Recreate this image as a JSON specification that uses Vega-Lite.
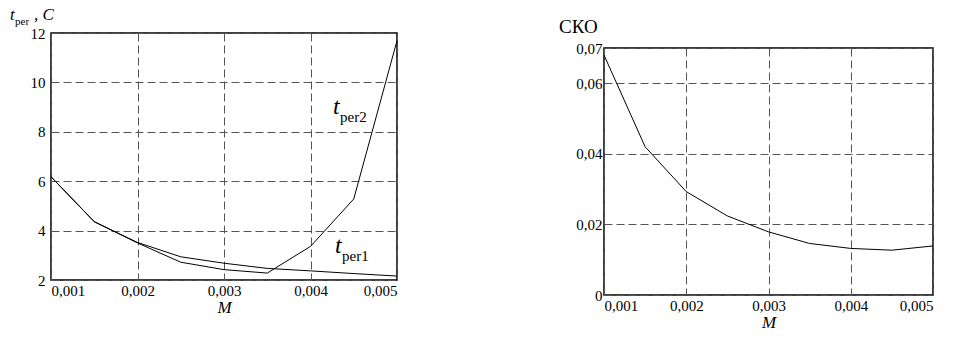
{
  "$schema": "https://vega.github.io/schema/vega-lite/v6.json",
  "padding": {"left": 9, "top": 4, "right": 5, "bottom": 5},
  "datasets": {
    "tper": [
      {"M": 0.001, "v": 6.18, "series": "tper1"},
      {"M": 0.0015, "v": 4.36, "series": "tper1"},
      {"M": 0.002, "v": 3.52, "series": "tper1"},
      {"M": 0.0025, "v": 2.94, "series": "tper1"},
      {"M": 0.003, "v": 2.68, "series": "tper1"},
      {"M": 0.0035, "v": 2.47, "series": "tper1"},
      {"M": 0.004, "v": 2.37, "series": "tper1"},
      {"M": 0.0045, "v": 2.26, "series": "tper1"},
      {"M": 0.005, "v": 2.16, "series": "tper1"},
      {"M": 0.001, "v": 6.18, "series": "tper2"},
      {"M": 0.0015, "v": 4.36, "series": "tper2"},
      {"M": 0.002, "v": 3.5, "series": "tper2"},
      {"M": 0.0025, "v": 2.72, "series": "tper2"},
      {"M": 0.003, "v": 2.42, "series": "tper2"},
      {"M": 0.0035, "v": 2.28, "series": "tper2"},
      {"M": 0.004, "v": 3.36, "series": "tper2"},
      {"M": 0.0045, "v": 5.28, "series": "tper2"},
      {"M": 0.005, "v": 11.69, "series": "tper2"}
    ],
    "sko": [
      {"M": 0.001, "v": 0.068},
      {"M": 0.0015, "v": 0.042},
      {"M": 0.002, "v": 0.0293},
      {"M": 0.0025, "v": 0.0224},
      {"M": 0.003, "v": 0.0179},
      {"M": 0.0035, "v": 0.0146},
      {"M": 0.004, "v": 0.0132},
      {"M": 0.0045, "v": 0.0127},
      {"M": 0.005, "v": 0.0139}
    ],
    "leftMainLabels": [
      {"M": 0.000526, "v": 12.53, "label": "t"},
      {"M": 0.000803, "v": 12.53, "label": ", C"}
    ],
    "leftSubLabels": [
      {"M": 0.000584, "v": 12.32, "label": "per"}
    ],
    "curveMain": [
      {"M": 0.00426, "v": 8.72, "label": "t"},
      {"M": 0.004283, "v": 3.09, "label": "t"}
    ],
    "curveSub": [
      {"M": 0.004341, "v": 8.4, "label": "per2"},
      {"M": 0.004364, "v": 2.77, "label": "per1"}
    ],
    "rightTitle": [
      {"M": 0.000453, "v": 0.0742, "label": "СКО"}
    ],
    "empty": []
  },
  "spacing": 158,
  "hconcat": [
    {
      "spacing": 0,
      "vconcat": [
        {
          "width": 10, "height": 1,
          "view": {"stroke": null},
          "data": {"name": "empty"},
          "mark": "point"
        },
        {
          "width": 346,
          "height": 247,
          "view": {"stroke": "black", "strokeWidth": 1.5},
          "layer": [
            {
              "data": {"name": "tper"},
              "mark": {"type": "line", "color": "black", "strokeWidth": 1},
              "encoding": {
                "x": {
                  "field": "M", "type": "quantitative",
                  "scale": {"domain": [0.001, 0.005], "nice": false, "zero": false},
                  "axis": {
                    "values": [0.001, 0.002, 0.003, 0.004, 0.005],
                    "labelExpr": "replace(format(datum.value, '.3f'), '.', ',')",
                    "domain": false, "ticks": false,
                    "gridColor": "#555", "gridDash": [8, 4], "gridWidth": 1, "gridOpacity": 1,
                    "labelFont": "Liberation Serif", "labelFontSize": 15, "labelColor": "black",
                    "labelPadding": 3, "labelOverlap": false,
                    "title": "M", "titleFont": "Liberation Serif", "titleColor": "black", "titleFontStyle": "italic", "titleFontWeight": "normal", "titleFontSize": 17, "titlePadding": 1
                  }
                },
                "y": {
                  "field": "v", "type": "quantitative",
                  "scale": {"domain": [2, 12], "nice": false, "zero": false},
                  "axis": {
                    "values": [2, 4, 6, 8, 10, 12],
                    "domain": false, "ticks": false,
                    "gridColor": "#555", "gridDash": [8, 4], "gridWidth": 1, "gridOpacity": 1,
                    "labelFont": "Liberation Serif", "labelFontSize": 15, "labelColor": "black", "labelPadding": 6, "title": null
                  }
                },
                "detail": {"field": "series"}
              }
            },
            {
              "data": {"name": "leftMainLabels"},
              "mark": {"type": "text", "font": "Liberation Serif", "align": "left", "baseline": "alphabetic", "fontSize": 17, "fontStyle": "italic", "color": "black"},
              "encoding": {
                "x": {"field": "M", "type": "quantitative"},
                "y": {"field": "v", "type": "quantitative"},
                "text": {"field": "label"}
              }
            },
            {
              "data": {"name": "leftSubLabels"},
              "mark": {"type": "text", "font": "Liberation Serif", "align": "left", "baseline": "alphabetic", "fontSize": 11, "color": "black"},
              "encoding": {
                "x": {"field": "M", "type": "quantitative"},
                "y": {"field": "v", "type": "quantitative"},
                "text": {"field": "label"}
              }
            },
            {
              "data": {"name": "curveMain"},
              "mark": {"type": "text", "font": "Liberation Serif", "align": "left", "baseline": "alphabetic", "fontSize": 24, "fontStyle": "italic", "color": "black"},
              "encoding": {
                "x": {"field": "M", "type": "quantitative"},
                "y": {"field": "v", "type": "quantitative"},
                "text": {"field": "label"}
              }
            },
            {
              "data": {"name": "curveSub"},
              "mark": {"type": "text", "font": "Liberation Serif", "align": "left", "baseline": "alphabetic", "fontSize": 15, "color": "black"},
              "encoding": {
                "x": {"field": "M", "type": "quantitative"},
                "y": {"field": "v", "type": "quantitative"},
                "text": {"field": "label"}
              }
            }
          ]
        }
      ]
    },
    {
      "spacing": 12,
      "vconcat": [
        {
          "width": 10, "height": 1,
          "view": {"stroke": null},
          "data": {"name": "empty"},
          "mark": "point"
        },
        {
          "width": 329,
          "height": 247,
          "view": {"stroke": "black", "strokeWidth": 1.5},
          "layer": [
            {
              "data": {"name": "sko"},
              "mark": {"type": "line", "color": "black", "strokeWidth": 1},
              "encoding": {
                "x": {
                  "field": "M", "type": "quantitative",
                  "scale": {"domain": [0.001, 0.005], "nice": false, "zero": false},
                  "axis": {
                    "values": [0.001, 0.002, 0.003, 0.004, 0.005],
                    "labelExpr": "replace(format(datum.value, '.3f'), '.', ',')",
                    "domain": false, "ticks": false,
                    "gridColor": "#555", "gridDash": [8, 4], "gridWidth": 1, "gridOpacity": 1,
                    "labelFont": "Liberation Serif", "labelFontSize": 15, "labelColor": "black",
                    "labelPadding": 3, "labelOverlap": false,
                    "title": "M", "titleFont": "Liberation Serif", "titleColor": "black", "titleFontStyle": "italic", "titleFontWeight": "normal", "titleFontSize": 17, "titlePadding": 1
                  }
                },
                "y": {
                  "field": "v", "type": "quantitative",
                  "scale": {"domain": [0, 0.07], "nice": false, "zero": true},
                  "axis": {
                    "values": [0, 0.02, 0.04, 0.06, 0.07],
                    "labelExpr": "datum.value == 0 ? '0' : replace(format(datum.value, '.2f'), '.', ',')",
                    "domain": false, "ticks": false,
                    "gridColor": "#555", "gridDash": [8, 4], "gridWidth": 1, "gridOpacity": 1,
                    "labelFont": "Liberation Serif", "labelFontSize": 15, "labelColor": "black",
                    "labelPadding": 2, "labelOverlap": false, "title": null
                  }
                }
              }
            },
            {
              "data": {"name": "rightTitle"},
              "mark": {"type": "text", "font": "Liberation Serif", "align": "left", "baseline": "alphabetic", "fontSize": 19, "color": "black"},
              "encoding": {
                "x": {"field": "M", "type": "quantitative"},
                "y": {"field": "v", "type": "quantitative"},
                "text": {"field": "label"}
              }
            }
          ]
        }
      ]
    }
  ]
}
